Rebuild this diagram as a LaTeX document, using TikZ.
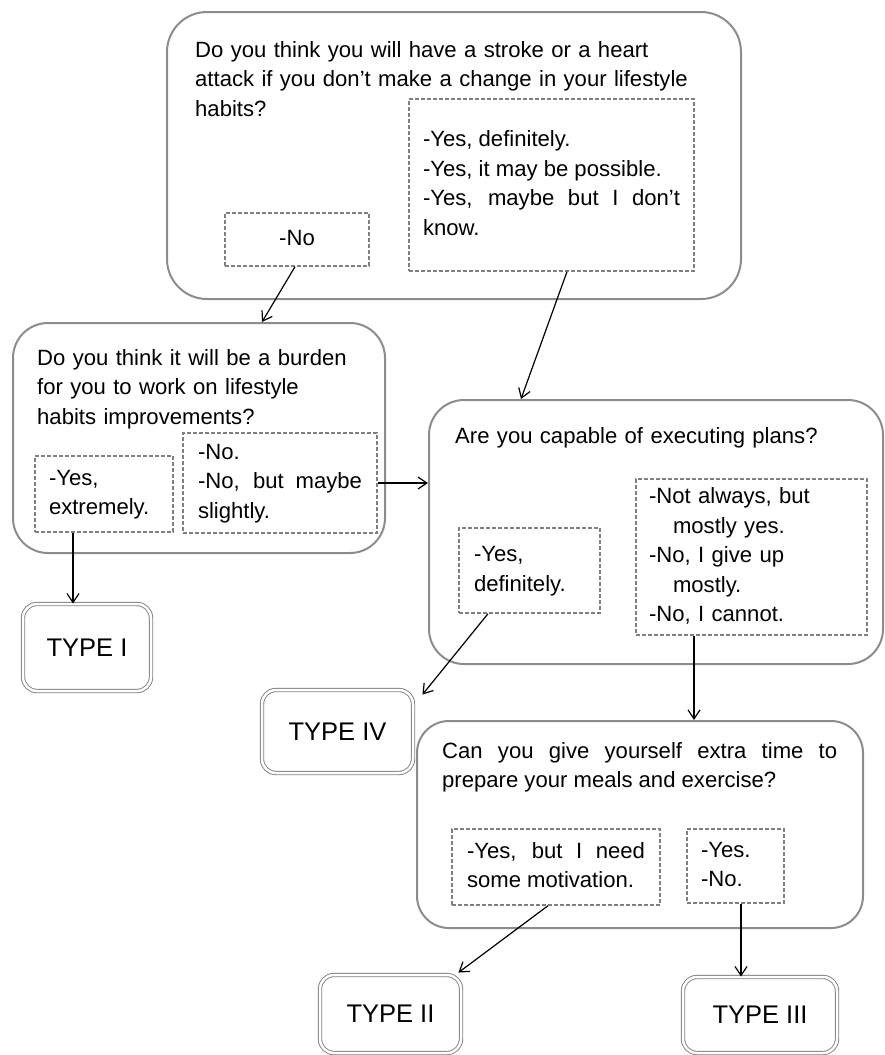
\documentclass[tikz,border=0pt]{standalone}
\usepackage{fontspec}
\setmainfont{Liberation Sans}
\usepackage{tikz}
\usetikzlibrary{arrows.meta}
\newcommand{\qfont}{\fontsize{22.1pt}{29.5pt}\selectfont}
\newcommand{\typefont}{\fontsize{25.5pt}{30pt}\selectfont}
\tolerance=10000
\hyphenpenalty=10000
\exhyphenpenalty=10000
\tikzset{
  qbox/.style = {draw=black!45, line width=2pt, rectangle, inner sep=0pt},
  ansbox/.style = {draw=black!50, line width=1.4pt, dash pattern=on 4pt off 2pt, inner sep=0pt,
    font=\qfont, execute at begin node=\strut, execute at end node=\strut},
  qtext/.style = {anchor=north west, inner sep=0pt, font=\qfont, align=left, execute at begin node=\strut},
  typebox/.style = {draw=black!50, double=white, double distance=2.5pt, line width=0.9pt,
    rounded corners=14pt, inner sep=0pt, font=\typefont},
  arr/.style = {-{Straight Barb[length=9pt,width=12pt]}, line width=1.2pt},
}

\begin{document}
\begin{tikzpicture}[x=1pt, y=-1pt]
	\useasboundingbox (0,0) rectangle (885,1055);

	\begin{scope}
		\node[qbox, rounded corners=40pt, minimum width=574pt, minimum height=287pt] (q1) at (454,155.5) {};
		\node[qbox, rounded corners=35pt, minimum width=372pt, minimum height=230pt] (q2) at (199,438) {};
		\node[qbox, rounded corners=35pt, minimum width=454pt, minimum height=264pt] (q3) at (656,532) {};
		\node[qbox, rounded corners=32pt, minimum width=446pt, minimum height=207pt] (q4) at (640,824.5) {};

		\node[qtext, text width=520pt] (q1txt) at (195,36.35) {Do you think you will have a stroke or a heart\\attack if you don’t make a change in your lifestyle\\habits?};
		\node[qtext, text width=345pt] (q2txt) at (37,344.35) {Do you think it will be a burden\\for you to work on lifestyle\\habits improvements?};
		\node[qtext, text width=400pt] (q3txt) at (455,422.35) {Are you capable of executing plans?};
		\node[qtext, text width=395pt, align=justify] (q4txt) at (442,737.35) {Can you give yourself extra time to prepare your meals and exercise?};
	\end{scope}

	\begin{scope}
		\node[ansbox, minimum width=144pt, minimum height=53pt, align=center] (q1no) at (297,239.5) {-No};
		\node[ansbox, minimum width=285pt, minimum height=172pt, text width=257pt, align=justify] (q1yes) at (551.5,185) {-Yes, definitely.\\-Yes, it may be possible.\\-Yes, maybe but I don’t know.};
		\node[ansbox, minimum width=138pt, minimum height=76pt, text width=110pt, align=left] (q2yes) at (104,494) {-Yes,\\extremely.};
		\node[ansbox, minimum width=194pt, minimum height=100pt, text width=164pt, align=justify] (q2no) at (280,483) {-No.\\-No, but maybe slightly.};
		\node[ansbox, minimum width=141pt, minimum height=85pt, text width=111pt, align=left] (q3yes) at (529.5,570.5) {-Yes,\\definitely.};
		\node[ansbox, minimum width=231pt, minimum height=156pt, text width=205pt, align=left] (q3no) at (751.5,557) {-Not always, but\\\hspace*{24pt}mostly yes.\\-No, I give up\\\hspace*{24pt}mostly.\\-No, I cannot.};
		\node[ansbox, minimum width=208pt, minimum height=76pt, text width=178pt, align=justify] (q4mot) at (556,867) {-Yes, but I need some motivation.};
		\node[ansbox, minimum width=97pt, minimum height=74pt, text width=69pt, align=left] (q4yn) at (735.5,866) {-Yes.\\-No.};
	\end{scope}

	\begin{scope}
		\node[typebox, minimum width=128pt, minimum height=87pt] (type1) at (87,647.5) {TYPE I\hspace{9pt}};
		\node[typebox, minimum width=151pt, minimum height=83pt] (type4) at (337.5,731.5) {TYPE IV\hspace{11pt}};
		\node[typebox, minimum width=141pt, minimum height=78pt] (type2) at (390.5,1014) {TYPE II\hspace{14pt}};
		\node[typebox, minimum width=154pt, minimum height=76pt] (type3) at (760,1015) {TYPE III\hspace{18pt}};
	\end{scope}

	\draw[arr] ([xshift=-2pt]q1no.south) -- ([xshift=250pt]q2.north west);
	\draw[arr] ([xshift=15.5pt]q1yes.south) -- ([xshift=93pt]q3.north west);
	\draw[arr] (q2no.east) -- (q2no.east -| q3.west);
	\draw[arr] ([xshift=-31pt]q2yes.south) -- ([xshift=-14pt]type1.north);
	\draw[arr] ([xshift=-41.5pt]q3yes.south) -- ([xshift=9pt,yshift=-5pt]type4.north east);
	\draw[arr] ([xshift=-57.5pt]q3no.south) -- ([xshift=54pt]q4.north);
	\draw[arr] ([xshift=-8pt]q4mot.south) -- ([xshift=-3pt,yshift=2pt]type2.north east);
	\draw[arr] ([xshift=5.5pt]q4yn.south) -- ([xshift=-19pt]type3.north);
\end{tikzpicture}
\end{document}
